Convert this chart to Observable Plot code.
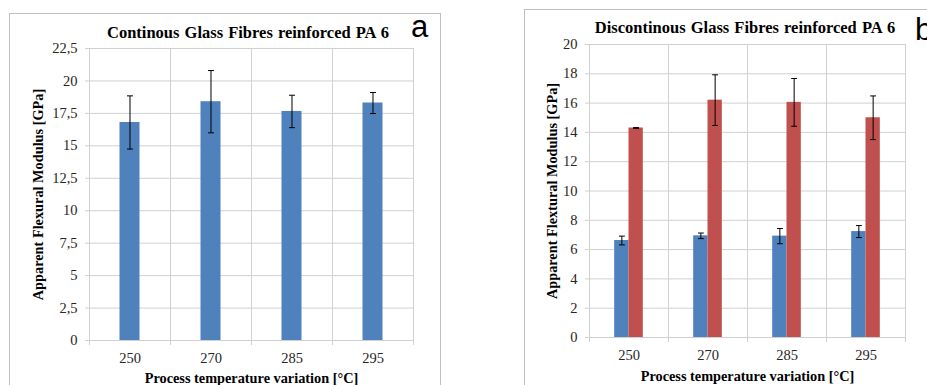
<!DOCTYPE html>
<html>
<head>
<meta charset="utf-8">
<script src="https://cdn.jsdelivr.net/npm/d3@7"></script>
<script src="https://cdn.jsdelivr.net/npm/@observablehq/plot@0.6"></script>
<style>
  html, body { margin: 0; padding: 0; background: #fff; }
  #wrap { position: relative; width: 927px; height: 385px; overflow: hidden; background: #fff; }
  .panel { position: absolute; border: 1px solid #bfbfbf; box-sizing: border-box; }
  .chart { position: absolute; top: 0; }
  .title { position: absolute; font-family: "Liberation Serif", "Times New Roman", serif; font-weight: bold; font-size: 16.5px; line-height: 16px; white-space: nowrap; color: #000; transform: translateX(-50%); word-spacing: 1px; }
  .letter { position: absolute; font-family: "Liberation Sans", Arial, sans-serif; font-size: 31px; line-height: 31px; color: #000; }
</style>
</head>
<body>
<div id="wrap">
  <div class="panel" style="left:9px; top:13px; width:432px; height:400px;"></div>
  <div class="panel" style="left:524px; top:9px; width:430px; height:400px;"></div>
  <div id="chartA" class="chart" style="left:0px;"></div>
  <div id="chartB" class="chart" style="left:460px;"></div>
  <div class="title" style="left:248px; top:24.5px;">Continous Glass Fibres reinforced PA 6</div>
  <div class="title" style="left:745px; top:20px;">Discontinous Glass Fibres reinforced PA 6</div>
  <div class="letter" style="left:411px; top:11px;">a</div>
  <div class="letter" style="left:915px; top:14px;">b</div>
</div>
<script>
// ---- data ----
const temps = ["250", "270", "285", "295"];

// Panel a: continuous glass fibres
const contMean = [16.8, 18.4, 17.65, 18.3];
const contErr  = [2.05, 2.4, 1.25, 0.81];

// Panel b: discontinuous glass fibres (two series)
const seriesB     = ["Series 1", "Series 2"];
const discBlue    = [6.62, 6.94, 6.92, 7.23];
const discBlueErr = [0.30, 0.19, 0.52, 0.41];
const discRed     = [14.3, 16.2, 16.05, 15.0];
const discRedErr  = [0.03, 1.73, 1.63, 1.49];

const yTicksA = [0, 2.5, 5, 7.5, 10, 12.5, 15, 17.5, 20, 22.5];
const yTicksB = [0, 2, 4, 6, 8, 10, 12, 14, 16, 18, 20];

const yLabelA = "Apparent Flexural Modulus [GPa]";
const yLabelB = "Apparent Flextural Modulus [GPa]";
const xLabel  = "Process temperature variation [°C]";

// ---- styles ----
const BLUE = "#4F81BD", RED = "#C0504D", GRID = "#d0d0d0";
const FONT = "'Liberation Serif', 'Times New Roman', serif";
const fmt = d => String(d).replace(".", ",");

const rowsA = temps.map((t, i) => ({temp: t, series: "PA 6", value: contMean[i], err: contErr[i]}));
const rowsB = temps.flatMap((t, i) => [
  {temp: t, series: seriesB[0], value: discBlue[i], err: discBlueErr[i]},
  {temp: t, series: seriesB[1], value: discRed[i], err: discRedErr[i]}
]);

function commonMarks(yTicks, yLabel, yLabelOffset, xLabelOffset) {
  return [
    Plot.ruleY(yTicks, {stroke: GRID}),
    Plot.frame({anchor: "left", stroke: GRID, insetBottom: -4}),
    Plot.frame({anchor: "right", stroke: GRID, insetBottom: -4}),
    Plot.axisY({ticks: yTicks, tickFormat: fmt, tickSize: 4, tickPadding: 8, stroke: GRID, fill: "#262626", fontSize: 14.5, label: null}),
    Plot.axisY({ticks: [], label: yLabel, labelAnchor: "center", labelArrow: false, labelOffset: yLabelOffset, fontWeight: "bold", fontSize: 14.3, fill: "#000"}),
    Plot.axisFx({anchor: "bottom", tickSize: 0, tickPadding: 12, fontSize: 14.5, fill: "#262626", label: null}),
    Plot.axisFx({anchor: "bottom", ticks: [], label: xLabel, labelAnchor: "center", labelArrow: false, labelOffset: xLabelOffset, fontWeight: "bold", fontSize: 14.3, fill: "#000"})
  ];
}

const plotA = Plot.plot({
  width: 460, height: 385,
  marginLeft: 89, marginRight: 47, marginTop: 48, marginBottom: 45,
  style: {fontFamily: FONT, fontSize: "14px", color: "#262626", background: "transparent", overflow: "visible"},
  fx: {domain: temps, padding: 0, round: false},
  x: {domain: ["PA 6"], padding: 0.604, round: false, axis: null},
  y: {domain: [0, 22.5]},
  marks: [
    ...commonMarks(yTicksA, yLabelA, 57, 42),
    Plot.barY(rowsA, {fx: "temp", x: "series", y: "value", fill: BLUE}),
    Plot.link(rowsA, {fx: "temp", x1: "series", x2: "series", y1: d => d.value - d.err, y2: d => d.value + d.err,
      stroke: "#000", strokeWidth: 1, markerStart: "tick", markerEnd: "tick"})
  ]
});
document.getElementById("chartA").appendChild(plotA);

const plotB = Plot.plot({
  width: 467, height: 385,
  marginLeft: 129, marginRight: 22, marginTop: 44, marginBottom: 48,
  style: {fontFamily: FONT, fontSize: "14px", color: "#262626", background: "transparent", overflow: "visible"},
  fx: {domain: temps, padding: 0, round: false},
  x: {domain: seriesB, paddingInner: 0, paddingOuter: 1.76, round: false, axis: null},
  y: {domain: [0, 20]},
  color: {domain: seriesB, range: [BLUE, RED]},
  marks: [
    ...commonMarks(yTicksB, yLabelB, 43, 43),
    Plot.barY(rowsB, {fx: "temp", x: "series", y: "value", fill: "series"}),
    Plot.link(rowsB, {fx: "temp", x1: "series", x2: "series", y1: d => d.value - d.err, y2: d => d.value + d.err,
      stroke: "#000", strokeWidth: 1, markerStart: "tick", markerEnd: "tick"})
  ]
});
document.getElementById("chartB").appendChild(plotB);
</script>
</body>
</html>
